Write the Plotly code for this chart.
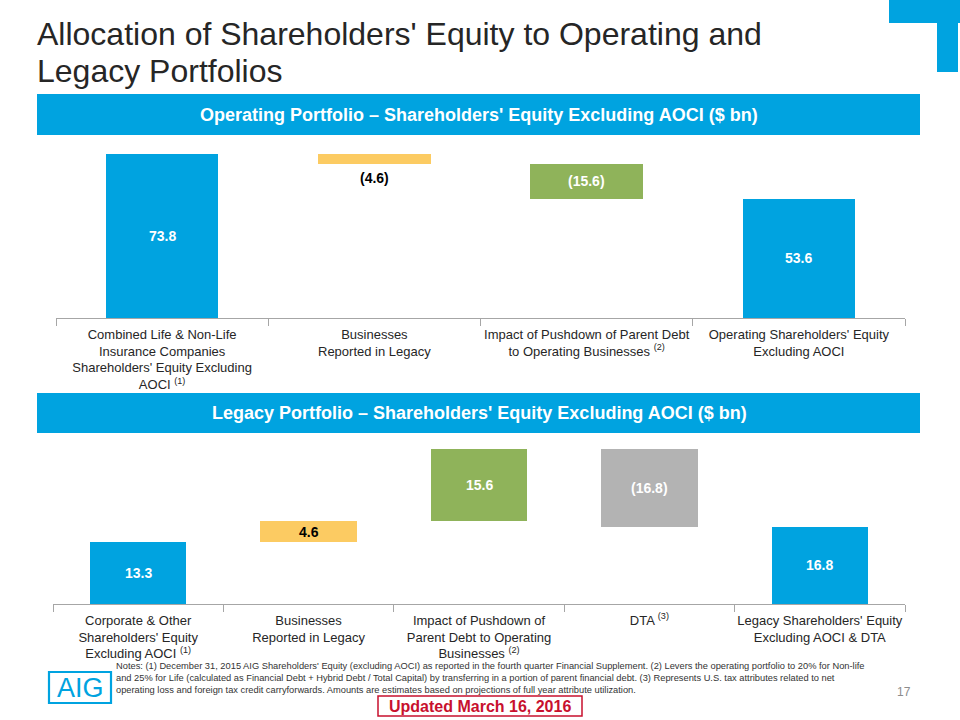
import plotly.graph_objects as go

# ---------------- data ----------------
op_categories = [
    "Combined Life & Non-Life<br>Insurance Companies<br>Shareholders' Equity Excluding<br>AOCI <sup>(1)</sup>",
    "Businesses<br>Reported in Legacy",
    "Impact of Pushdown of Parent Debt<br>to Operating Businesses <sup>(2)</sup>",
    "Operating Shareholders' Equity<br>Excluding AOCI",
]
op_values = [73.8, -4.6, -15.6, 53.6]
op_measures = ["absolute", "relative", "relative", "total"]
op_colors = ["#00A3E0", "#FCCB62", "#8FB35A", "#00A3E0"]
op_text_colors = ["white", "black", "white", "white"]
op_label_pos = ["inside", "below", "inside", "inside"]

lg_categories = [
    "Corporate & Other<br>Shareholders' Equity<br>Excluding AOCI <sup>(1)</sup>",
    "Businesses<br>Reported in Legacy",
    "Impact of Pushdown of<br>Parent Debt to Operating<br>Businesses <sup>(2)</sup>",
    "DTA <sup>(3)</sup>",
    "Legacy Shareholders' Equity<br>Excluding AOCI & DTA",
]
lg_values = [13.3, 4.6, 15.6, -16.8, 16.8]
lg_measures = ["absolute", "relative", "relative", "relative", "total"]
lg_colors = ["#00A3E0", "#FCCB62", "#8FB35A", "#B3B3B3", "#00A3E0"]
lg_text_colors = ["white", "black", "white", "white", "white"]

title_lines = ["Allocation of Shareholders' Equity to Operating and", "Legacy Portfolios"]
op_banner = "Operating Portfolio – Shareholders' Equity Excluding AOCI ($ bn)"
lg_banner = "Legacy Portfolio – Shareholders' Equity Excluding AOCI ($ bn)"
notes_text = (
    "Notes: (1) December 31, 2015 AIG Shareholders' Equity (excluding AOCI) as reported in the fourth quarter Financial Supplement. (2) Levers the operating portfolio to 20% for Non-life<br>"
    "and 25% for Life (calculated as Financial Debt + Hybrid Debt / Total Capital) by transferring in a portion of parent financial debt. (3) Represents U.S. tax attributes related to net<br>"
    "operating loss and foreign tax credit carryforwards. Amounts are estimates based on projections of full year attribute utilization."
)
page_number = "17"
updated_text = "Updated March 16, 2016"

W, H = 960, 720
BLUE = "#00A3E0"
FONT = "Liberation Sans, Arial, sans-serif"


def px_x(v):
    return v / W


def px_y(v):
    return 1 - v / H


def waterfall(values, measures):
    bases, heights, mids = [], [], []
    cum = 0.0
    for v, m in zip(values, measures):
        if m == "absolute":
            base, h = 0.0, v
            cum = v
        elif m == "total":
            base, h = 0.0, cum
        else:
            if v >= 0:
                base, h = cum, v
                cum += v
            else:
                cum += v
                base, h = cum, -v
        bases.append(base)
        heights.append(h)
        mids.append(base + h / 2)
    return bases, heights, mids


def fmt(v):
    return f"({abs(v):.1f})" if v < 0 else f"{v:.1f}"


fig = go.Figure()

op_b, op_h, op_m = waterfall(op_values, op_measures)
lg_b, lg_h, lg_m = waterfall(lg_values, lg_measures)

fig.add_trace(go.Bar(x=op_categories, y=op_h, base=op_b, marker=dict(color=op_colors, line=dict(width=0)),
                     width=0.53, xaxis="x", yaxis="y", showlegend=False, hoverinfo="skip"))
fig.add_trace(go.Bar(x=lg_categories, y=lg_h, base=lg_b, marker=dict(color=lg_colors, line=dict(width=0)),
                     width=0.565, xaxis="x2", yaxis="y2", showlegend=False, hoverinfo="skip"))

annotations = []
for cat, v, mid, bot, col, pos in zip(op_categories, op_values, op_m, op_b, op_text_colors, op_label_pos):
    if pos == "inside":
        annotations.append(dict(x=cat, y=mid, xref="x", yref="y", text=f"<b>{fmt(v)}</b>", showarrow=False,
                                xanchor="center", yanchor="middle",
                                font=dict(family=FONT, size=14, color=col)))
    else:
        annotations.append(dict(x=cat, y=bot, xref="x", yref="y", text=f"<b>{fmt(v)}</b>", showarrow=False,
                                xanchor="center", yanchor="top", yshift=-4,
                                font=dict(family=FONT, size=14, color=col)))
for cat, v, mid, col in zip(lg_categories, lg_values, lg_m, lg_text_colors):
    annotations.append(dict(x=cat, y=mid, xref="x2", yref="y2", text=f"<b>{fmt(v)}</b>", showarrow=False,
                            xanchor="center", yanchor="middle",
                            font=dict(family=FONT, size=14, color=col)))


def paper_text(x, y, text, size, color, xanchor="center", yanchor="middle", align="center"):
    return dict(x=px_x(x), y=px_y(y), xref="paper", yref="paper", xanchor=xanchor, yanchor=yanchor,
                text=text, showarrow=False, align=align, font=dict(family=FONT, size=size, color=color))


# title (two lines, tighter spacing than plotly default)
for line, yc in zip(title_lines, [34, 71]):
    annotations.append(paper_text(35, yc, line, 32, "#262626", xanchor="left", align="left"))
# banners
annotations.append(paper_text(479, 115, f"<b>{op_banner}</b>", 18, "white"))
annotations.append(paper_text(479, 413, f"<b>{lg_banner}</b>", 18, "white"))
# notes
annotations.append(paper_text(114, 659, notes_text, 9.3, "#333333", xanchor="left", yanchor="top", align="left"))
annotations.append(paper_text(904, 692, page_number, 12, "#8C8C8C"))
annotations.append(paper_text(480, 706, f"<b>{updated_text}</b>", 16, "#C8102E"))
# AIG logo text
annotations.append(paper_text(80, 688, "AIG", 27, BLUE))

shapes = [
    # corner logo
    dict(type="rect", xref="paper", yref="paper", x0=px_x(889), x1=px_x(960), y0=px_y(23), y1=px_y(0),
         fillcolor=BLUE, line=dict(width=0), layer="below"),
    dict(type="rect", xref="paper", yref="paper", x0=px_x(937), x1=px_x(958), y0=px_y(72), y1=px_y(0),
         fillcolor=BLUE, line=dict(width=0), layer="below"),
    # banners
    dict(type="rect", xref="paper", yref="paper", x0=px_x(37), x1=px_x(920), y0=px_y(135), y1=px_y(94),
         fillcolor=BLUE, line=dict(width=0), layer="below"),
    dict(type="rect", xref="paper", yref="paper", x0=px_x(37), x1=px_x(920), y0=px_y(433), y1=px_y(393),
         fillcolor=BLUE, line=dict(width=0), layer="below"),
    # AIG logo box
    dict(type="rect", xref="paper", yref="paper", x0=px_x(49), x1=px_x(111), y0=px_y(703), y1=px_y(672),
         line=dict(color=BLUE, width=2.2)),
    # updated box
    dict(type="rect", xref="paper", yref="paper", x0=px_x(378), x1=px_x(582), y0=px_y(716), y1=px_y(696),
         line=dict(color="#C8102E", width=1.5)),
]

axis_common = dict(showgrid=False, zeroline=False, showline=True, linecolor="#A6A6A6", linewidth=1,
                   ticks="outside", tickson="boundaries", ticklen=7, tickcolor="#A6A6A6",
                   ticklabelstandoff=4,
                   tickfont=dict(family=FONT, size=13, color="#262626"), fixedrange=True, tickangle=0)

fig.update_layout(
    width=W, height=H, margin=dict(l=0, r=0, t=0, b=0),
    paper_bgcolor="white", plot_bgcolor="white",
    xaxis=dict(domain=[px_x(56), px_x(905)], anchor="y", **axis_common),
    yaxis=dict(domain=[px_y(318), px_y(140)], range=[0, 80], visible=False, fixedrange=True),
    xaxis2=dict(domain=[px_x(53), px_x(905)], anchor="y2", **axis_common),
    yaxis2=dict(domain=[px_y(604), px_y(437)], range=[0, 36], visible=False, fixedrange=True),
    annotations=annotations, shapes=shapes, bargap=0,
    font=dict(family=FONT),
)

fig.write_html("out.html", config={"displayModeBar": False},
               post_script="document.body.style.margin='0px';document.body.style.overflow='hidden';")
